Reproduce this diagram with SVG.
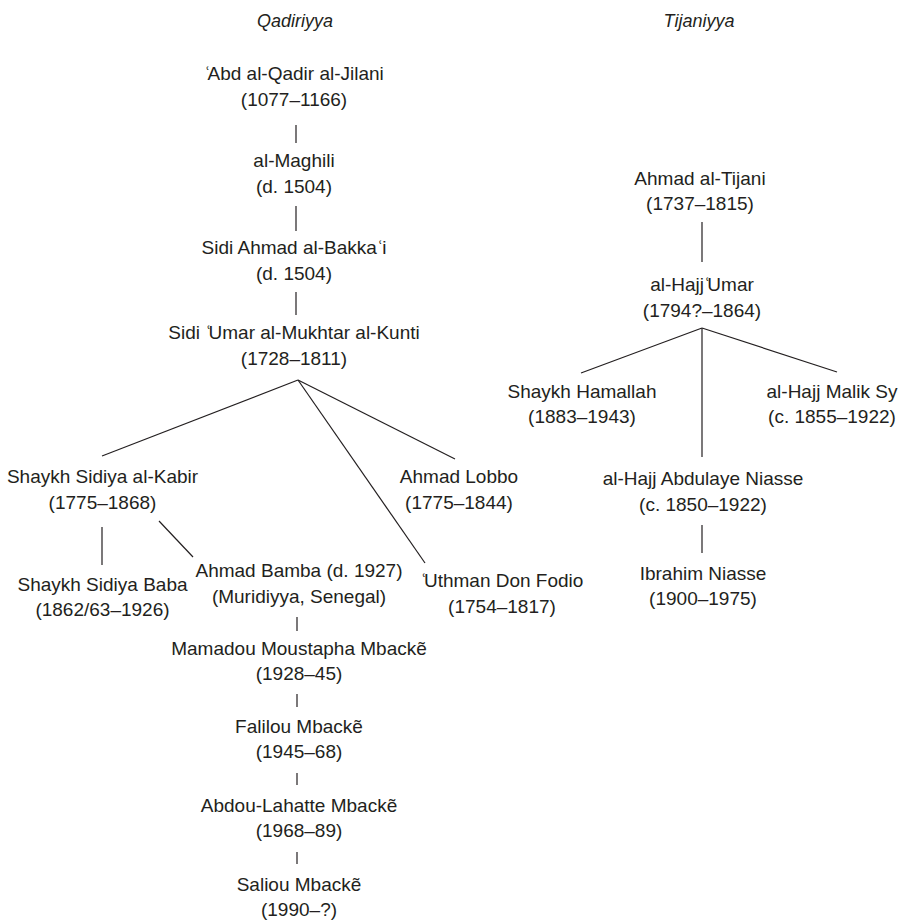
<svg xmlns="http://www.w3.org/2000/svg" width="902" height="922" viewBox="0 0 902 922">
<style>
text{font-family:"Liberation Sans",Arial,sans-serif;font-size:19px;fill:#231f20;text-anchor:middle}
.title{font-style:italic;font-size:18px}
.ayn{letter-spacing:-3px}
.ayn2{letter-spacing:-1px}
#connectors line{stroke:#231f20;stroke-width:1.2}
</style>
<rect width="902" height="922" fill="#fff"/>
<text class="title" x="295" y="27">Qadiriyya</text>
<text class="title" x="699" y="27">Tijaniyya</text>
<g id="connectors">
<line x1="296" y1="125" x2="296" y2="143"/>
<line x1="296" y1="206" x2="296" y2="231"/>
<line x1="296" y1="292" x2="296" y2="315"/>
<line x1="298" y1="380" x2="102" y2="456"/>
<line x1="298" y1="380" x2="455" y2="459"/>
<line x1="298" y1="380" x2="425" y2="563"/>
<line x1="102" y1="527" x2="102" y2="565"/>
<line x1="159" y1="521" x2="193" y2="557"/>
<line x1="297" y1="617" x2="297" y2="631"/>
<line x1="297" y1="694" x2="297" y2="707"/>
<line x1="297" y1="773" x2="297" y2="785"/>
<line x1="297" y1="852" x2="297" y2="864"/>
<line x1="702" y1="222" x2="702" y2="262"/>
<line x1="702" y1="328" x2="581" y2="373"/>
<line x1="702" y1="328" x2="837" y2="372"/>
<line x1="702" y1="328" x2="702" y2="457"/>
<line x1="702" y1="525" x2="702" y2="553"/>
</g>
<g id="jilani"><text x="294" y="80"><tspan class="ayn">ʿ</tspan>Abd al-Qadir al-Jilani</text><text x="294" y="106">(1077–1166)</text></g>
<g id="maghili"><text x="294" y="167">al-Maghili</text><text x="294" y="193">(d. 1504)</text></g>
<g id="bakkai"><text x="294" y="254">Sidi Ahmad al-Bakka<tspan class="ayn2">ʿ</tspan>i</text><text x="294" y="280">(d. 1504)</text></g>
<g id="kunti"><text x="294" y="339">Sidi <tspan class="ayn">ʿ</tspan>Umar al-Mukhtar al-Kunti</text><text x="294" y="365">(1728–1811)</text></g>
<g id="sidiya-kabir"><text x="102.5" y="483">Shaykh Sidiya al-Kabir</text><text x="102.5" y="509">(1775–1868)</text></g>
<g id="lobbo"><text x="459" y="483">Ahmad Lobbo</text><text x="459" y="509">(1775–1844)</text></g>
<g id="sidiya-baba"><text x="102.5" y="591">Shaykh Sidiya Baba</text><text x="102.5" y="616">(1862/63–1926)</text></g>
<g id="bamba"><text x="299" y="577">Ahmad Bamba (d. 1927)</text><text x="299" y="603">(Muridiyya, Senegal)</text></g>
<g id="fodio"><text x="502" y="587"><tspan class="ayn">ʿ</tspan>Uthman Don Fodio</text><text x="502" y="613">(1754–1817)</text></g>
<g id="mamadou"><text x="299" y="655">Mamadou Moustapha Mbackẽ</text><text x="299" y="680">(1928–45)</text></g>
<g id="falilou"><text x="299" y="733">Falilou Mbackẽ</text><text x="299" y="758">(1945–68)</text></g>
<g id="abdou"><text x="299" y="812">Abdou-Lahatte Mbackẽ</text><text x="299" y="837">(1968–89)</text></g>
<g id="saliou"><text x="299" y="891">Saliou Mbackẽ</text><text x="299" y="916">(1990–?)</text></g>
<g id="tijani"><text x="700" y="185">Ahmad al-Tijani</text><text x="700" y="210">(1737–1815)</text></g>
<g id="umar"><text x="702" y="291">al-Hajj<tspan class="ayn">ʿ</tspan>Umar</text><text x="702" y="317">(1794?–1864)</text></g>
<g id="hamallah"><text x="582" y="398">Shaykh Hamallah</text><text x="582" y="423">(1883–1943)</text></g>
<g id="malik-sy"><text x="832" y="398">al-Hajj Malik Sy</text><text x="832" y="423">(c. 1855–1922)</text></g>
<g id="abdulaye"><text x="703" y="485">al-Hajj Abdulaye Niasse</text><text x="703" y="511">(c. 1850–1922)</text></g>
<g id="ibrahim"><text x="703" y="580">Ibrahim Niasse</text><text x="703" y="605">(1900–1975)</text></g>
</svg>
